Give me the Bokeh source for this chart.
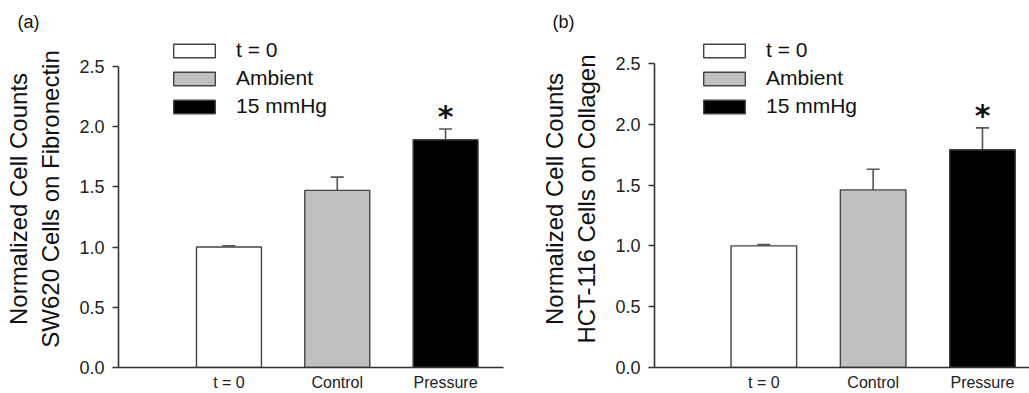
from bokeh.plotting import figure
from bokeh.models import (ColumnDataSource, Whisker, TeeHead, FixedTicker,
                          Range1d, NumeralTickFormatter, Title)
from bokeh.layouts import row
from bokeh.core.properties import value
from bokeh.embed import file_html
from bokeh.resources import INLINE

# ---- data ----
categories = ["t = 0", "Control", "Pressure"]
legend_labels = ["t = 0", "Ambient", "15 mmHg"]
bar_colors = ["#ffffff", "#c0c0c0", "#000000"]

a_means = [1.00, 1.47, 1.89]
a_errors = [0.01, 0.11, 0.09]
b_means = [1.00, 1.46, 1.79]
b_errors = [0.01, 0.17, 0.18]
significance = ["", "", "*"]

y_ticks = [0.0, 0.5, 1.0, 1.5, 2.0, 2.5]

FONT = "Liberation Sans"
AXIS_COLOR = "#333333"


def make_panel(letter, ylabel, means, errors, width, border_left, border_right,
               x_start, x_end, y_end, legend_loc, title_offset):
    xs = list(range(len(categories)))
    src = ColumnDataSource(dict(
        x=xs,
        top=means,
        upper=[m + e for m, e in zip(means, errors)],
        color=bar_colors,
        legend=legend_labels,
        sig=significance,
    ))
    p = figure(width=width, height=393,
               x_range=Range1d(x_start, x_end), y_range=Range1d(0, y_end),
               output_backend="svg", toolbar_location=None,
               min_border_left=border_left, min_border_right=border_right,
               min_border_top=30, min_border_bottom=24)
    p.title = Title(text=letter, align="left", offset=title_offset,
                    text_font_size="18px", text_font_style="normal",
                    text_font=FONT, standoff=-2, text_color="#111111")
    p.outline_line_color = None
    p.xgrid.visible = False
    p.ygrid.visible = False
    p.background_fill_color = "white"
    p.border_fill_color = "white"

    p.vbar(x="x", top="top", width=0.6, bottom=0, fill_color="color",
           line_color="#444444", line_width=1.4, source=src,
           legend_field="legend")

    p.add_layout(Whisker(source=src, base="x", lower="top", upper="upper",
                         line_color="#555555", line_width=1.6,
                         upper_head=TeeHead(size=13, line_color="#555555",
                                            line_width=1.6),
                         lower_head=None))

    p.text(x="x", y="upper", text="sig", source=src,
           text_font=value("DejaVu Sans"), text_font_style="bold",
           text_font_size="30px", text_align="center",
           text_baseline="middle", y_offset=-12, text_color="#111111")

    # x axis
    xa = p.xaxis[0]
    xa.ticker = FixedTicker(ticks=xs)
    xa.major_label_overrides = {i: c for i, c in enumerate(categories)}
    xa.major_tick_out = 0
    xa.major_tick_in = 0
    xa.minor_tick_out = 0
    xa.minor_tick_in = 0
    xa.major_label_standoff = 6
    xa.major_label_text_font_size = "16px"
    xa.major_label_text_font = FONT
    xa.major_label_text_color = "#222222"
    xa.axis_line_color = AXIS_COLOR
    xa.axis_line_width = 1.6

    # y axis
    ya = p.yaxis[0]
    ya.ticker = FixedTicker(ticks=y_ticks)
    ya.formatter = NumeralTickFormatter(format="0.0")
    ya.bounds = (0, 2.5)
    ya.major_tick_out = 6
    ya.major_tick_in = 0
    ya.minor_tick_out = 0
    ya.minor_tick_in = 0
    ya.major_label_standoff = 8
    ya.major_label_text_font_size = "18px"
    ya.major_label_text_font = FONT
    ya.major_label_text_color = "#222222"
    ya.axis_line_color = AXIS_COLOR
    ya.axis_line_width = 1.6
    ya.major_tick_line_color = AXIS_COLOR
    ya.major_tick_line_width = 1.4
    ya.axis_label = ylabel
    ya.axis_label_text_font = FONT
    ya.axis_label_text_font_size = "24px"
    ya.axis_label_text_font_style = "normal"
    ya.axis_label_text_color = "#111111"
    ya.axis_label_standoff = 12

    lg = p.legend[0]
    lg.location = legend_loc
    lg.padding = 0
    lg.margin = 0
    lg.spacing = 4
    lg.border_line_color = None
    lg.background_fill_alpha = 0
    lg.glyph_width = 52
    lg.glyph_height = 17
    lg.label_height = 17
    lg.label_standoff = 16
    lg.label_text_font = FONT
    lg.label_text_font_size = "21px"
    lg.label_text_color = "#111111"
    return p


pa = make_panel("(a)", "Normalized Cell Counts\nSW620 Cells on Fibronectin",
                a_means, a_errors, width=520, border_left=118, border_right=17,
                x_start=-1.02, x_end=2.535, y_end=2.797,
                legend_loc=(50, 249), title_offset=-101)
pb = make_panel("(b)", "Normalized Cell Counts\nHCT-116 Cells on Collagen",
                b_means, b_errors, width=509, border_left=134, border_right=0,
                x_start=-1.0, x_end=2.43, y_end=2.77,
                legend_loc=(44, 249), title_offset=-102)

layout = row(pa, pb, spacing=0)
open("out.html", "w").write(file_html(layout, INLINE))
